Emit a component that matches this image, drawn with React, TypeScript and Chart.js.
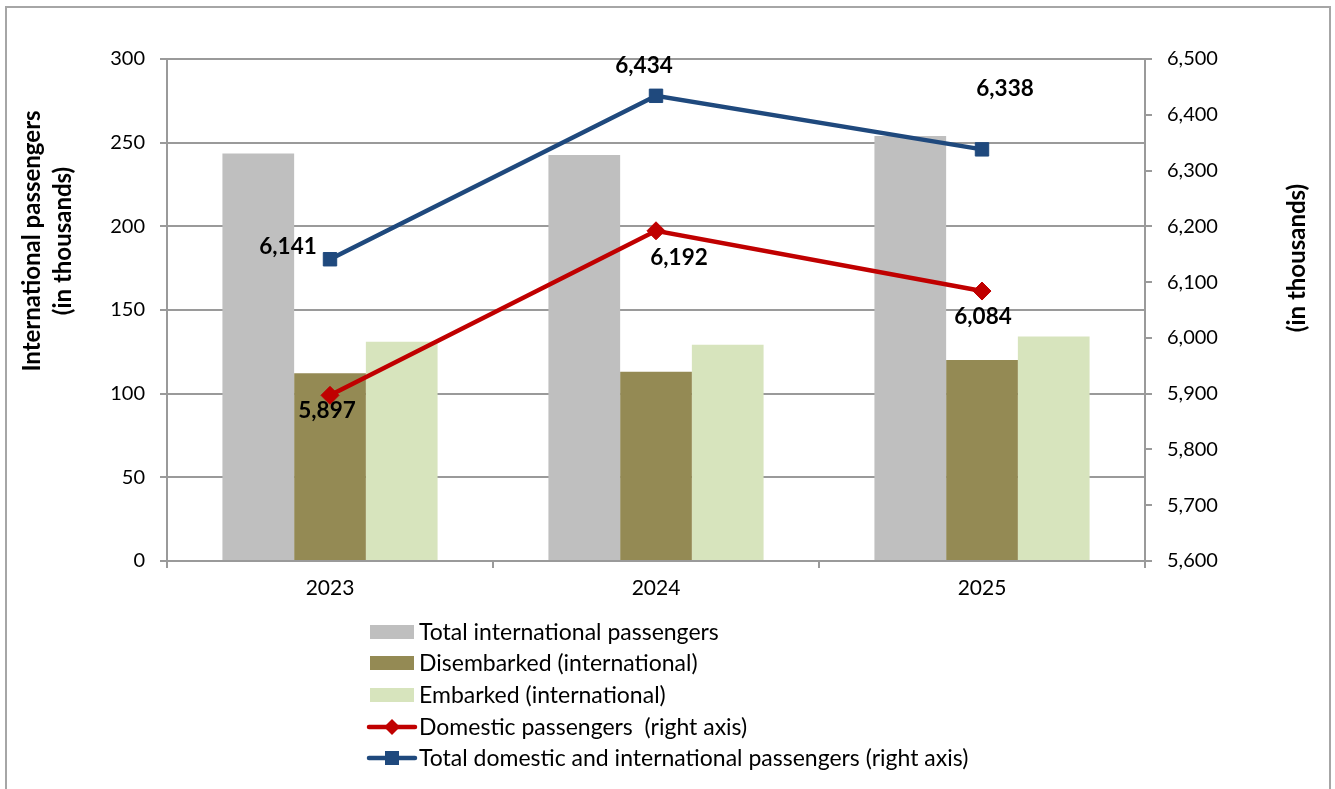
import React, { useEffect, useRef } from 'react';
import { Chart, registerables } from 'chart.js';

Chart.register(...registerables);

const categories = ['2023', '2024', '2025'];
const totalInternational = [243.5, 242.6, 254.0];
const disembarked = [112.2, 113.1, 120.1];
const embarked = [131.1, 129.3, 134.1];
const domestic = [5897, 6192, 6084];
const totalAll = [6141, 6434, 6338];
const leftTitle = ['International passengers', '(in thousands)'];
const rightTitle = '(in thousands)';
const seriesLabels = [
  'Total international passengers',
  'Disembarked (international)',
  'Embarked (international)',
  'Domestic passengers  (right axis)',
  'Total domestic and international passengers (right axis)',
];

const FONT = 'Lato, "Open Sans", sans-serif';
const GRID = '#9A9A9A';

// label offsets (style) per line dataset point
const labelOffsets: Record<number, [number, number][]> = {
  3: [[-3, 15], [23, 27], [1, 26]],
  4: [[-42, -12], [-12, -30], [23, -61]],
};

const fmt = (v: number) => v.toLocaleString('en-US');

const decorPlugin = {
  id: 'decor',
  beforeDraw(chart: any) {
    const { ctx, width, height } = chart;
    ctx.save();
    ctx.fillStyle = '#ffffff';
    ctx.fillRect(0, 0, width, height);
    ctx.strokeStyle = '#A6A6A6';
    ctx.lineWidth = 2;
    ctx.strokeRect(6, 7, 1324, height + 10);
    ctx.restore();
  },
  afterDraw(chart: any) {
    const { ctx } = chart;
    ctx.save();
    // axis titles
    ctx.fillStyle = '#000';
    ctx.font = `bold 24px ${FONT}`;
    ctx.textAlign = 'center';
    ctx.textBaseline = 'middle';
    ctx.save();
    ctx.translate(32, 241);
    ctx.rotate(-Math.PI / 2);
    ctx.fillText(leftTitle[0], 0, 0);
    ctx.restore();
    ctx.save();
    ctx.translate(63, 241);
    ctx.rotate(-Math.PI / 2);
    ctx.fillText(leftTitle[1], 0, 0);
    ctx.restore();
    ctx.save();
    ctx.translate(1297, 258);
    ctx.rotate(-Math.PI / 2);
    ctx.fillText(rightTitle, 0, 0);
    ctx.restore();

    // legend
    const ds = chart.data.datasets;
    const rowY = [632, 663, 695, 727, 758];
    ctx.font = `23px ${FONT}`;
    ctx.textAlign = 'left';
    ds.forEach((d: any, i: number) => {
      const y = rowY[i];
      if (d.type === 'bar') {
        ctx.fillStyle = d.backgroundColor;
        ctx.fillRect(370, y - 7, 44, 14);
      } else {
        ctx.strokeStyle = d.borderColor;
        ctx.lineWidth = 4.5;
        ctx.lineCap = 'round';
        ctx.beginPath();
        ctx.moveTo(369, y);
        ctx.lineTo(415, y);
        ctx.stroke();
        ctx.fillStyle = d.borderColor;
        if (d.pointStyle === 'rect') {
          ctx.fillRect(392 - 7, y - 7, 14, 14);
        } else {
          ctx.beginPath();
          ctx.moveTo(392, y - 8);
          ctx.lineTo(400, y);
          ctx.lineTo(392, y + 8);
          ctx.lineTo(384, y);
          ctx.closePath();
          ctx.fill();
        }
      }
      ctx.fillStyle = '#000';
      ctx.fillText(d.label, 419, y + 1);
    });

    ctx.restore();
  },
  afterDatasetsDraw(chart: any) {
    const { ctx } = chart;
    ctx.save();
    ctx.fillStyle = '#000';
    ctx.font = `bold 22.5px ${FONT}`;
    ctx.textAlign = 'center';
    ctx.textBaseline = 'middle';
    Object.keys(labelOffsets).forEach((k) => {
      const idx = Number(k);
      const meta = chart.getDatasetMeta(idx);
      const data = chart.data.datasets[idx].data as number[];
      meta.data.forEach((pt: any, j: number) => {
        const [dx, dy] = labelOffsets[idx][j];
        ctx.fillText(fmt(data[j]), pt.x + dx, pt.y + dy);
      });
    });
    ctx.restore();
  },
};

export default function App() {
  const ref = useRef<HTMLCanvasElement | null>(null);
  useEffect(() => {
    if (!ref.current) return;
    const chart = new Chart(ref.current, {
      type: 'bar',
      data: {
        labels: categories,
        datasets: [
          {
            type: 'bar',
            label: seriesLabels[0],
            data: totalInternational,
            backgroundColor: '#BFBFBF',
            yAxisID: 'y',
            order: 2,
            categoryPercentage: 0.66,
            barPercentage: 1,
          },
          {
            type: 'bar',
            label: seriesLabels[1],
            data: disembarked,
            backgroundColor: '#948A54',
            yAxisID: 'y',
            order: 2,
            categoryPercentage: 0.66,
            barPercentage: 1,
          },
          {
            type: 'bar',
            label: seriesLabels[2],
            data: embarked,
            backgroundColor: '#D7E4BD',
            yAxisID: 'y',
            order: 2,
            categoryPercentage: 0.66,
            barPercentage: 1,
          },
          {
            type: 'line',
            label: seriesLabels[3],
            data: domestic,
            borderColor: '#C00000',
            backgroundColor: '#C00000',
            borderWidth: 4.5,
            pointStyle: 'rectRot',
            pointRadius: 9,
            pointBorderWidth: 1,
            pointBackgroundColor: '#C00000',
            pointBorderColor: '#C00000',
            yAxisID: 'y1',
            order: 0,
            tension: 0,
          },
          {
            type: 'line',
            label: seriesLabels[4],
            data: totalAll,
            borderColor: '#1F497D',
            backgroundColor: '#1F497D',
            borderWidth: 4.5,
            pointStyle: 'rect',
            pointRadius: 9.5,
            pointBorderWidth: 1,
            pointBackgroundColor: '#1F497D',
            pointBorderColor: '#1F497D',
            yAxisID: 'y1',
            order: 1,
            tension: 0,
          },
        ] as any,
      },
      options: {
        responsive: false,
        animation: false,
        devicePixelRatio: 1,
        layout: { padding: { top: 59, left: 0, right: 0, bottom: 0 } },
        plugins: {
          legend: { display: false },
          tooltip: { enabled: false },
          title: { display: false },
        },
        scales: {
          x: {
            offset: true,
            grid: {
              display: true,
              drawOnChartArea: false,
              drawTicks: true,
              tickLength: 7,
              color: GRID,
              lineWidth: 2,
              offset: true,
            },
            border: { display: true, color: GRID, width: 2 },
            ticks: { color: '#000', font: { family: FONT, size: 21 }, padding: 8 },
            afterFit: (s: any) => { s.height = 789 - 561; },
          },
          y: {
            position: 'left',
            min: 0,
            max: 300,
            ticks: { stepSize: 50, color: '#000', font: { family: FONT, size: 20 }, padding: 15 },
            grid: { color: GRID, lineWidth: 2, tickLength: 7, drawTicks: true },
            border: { display: true, color: GRID, width: 2 },
            afterFit: (s: any) => { s.width = 167; },
          },
          y1: {
            position: 'right',
            min: 5600,
            max: 6500,
            ticks: {
              stepSize: 100,
              color: '#000',
              font: { family: FONT, size: 20 },
              padding: 15,
              callback: (v: any) => fmt(Number(v)),
            },
            grid: { drawOnChartArea: false, color: GRID, lineWidth: 2, tickLength: 7 },
            border: { display: true, color: GRID, width: 2 },
            afterFit: (s: any) => { s.width = 1335 - 1145; },
          },
        },
      },
      plugins: [decorPlugin],
    });
    return () => chart.destroy();
  }, []);
  return (
    <div style={{ position: 'fixed', left: 0, top: 0, width: 1335, height: 789, background: '#fff' }}>
      <canvas ref={ref} width={1335} height={789} style={{ display: 'block' }} />
    </div>
  );
}
